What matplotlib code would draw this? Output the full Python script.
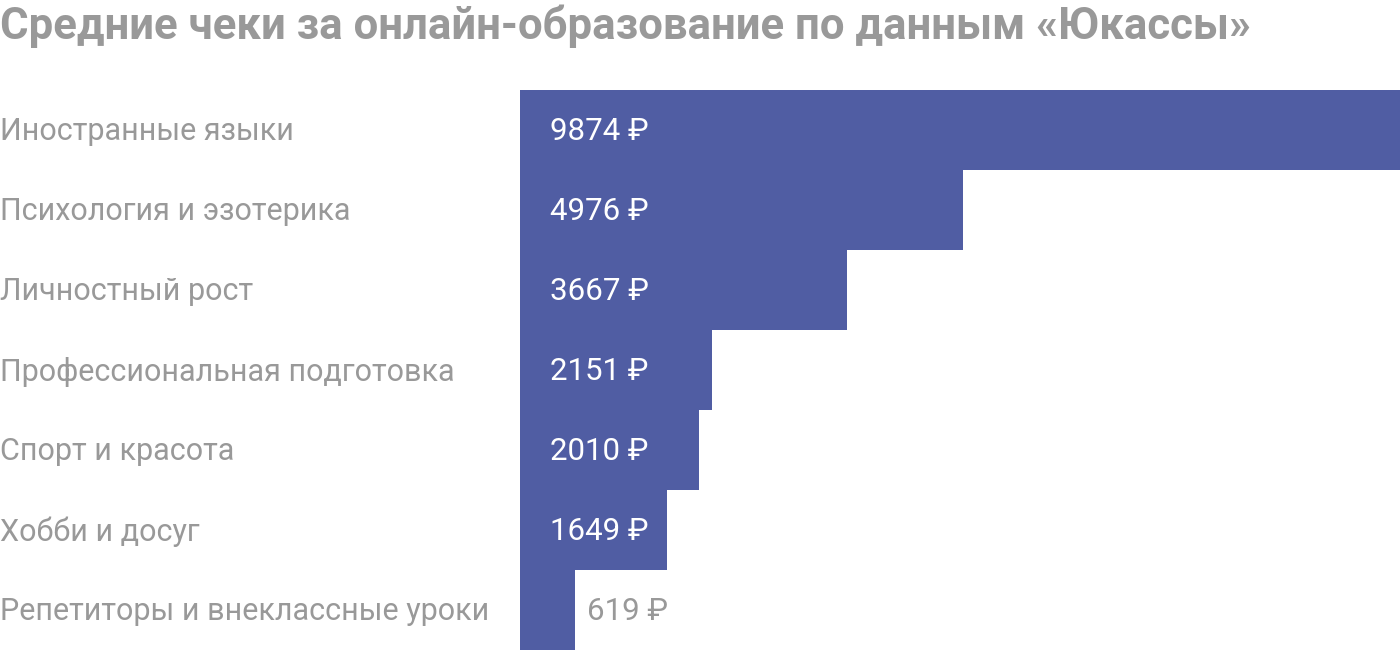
import matplotlib
matplotlib.use("Agg")
import matplotlib.pyplot as plt

plt.rcParams['font.family'] = ['Roboto', 'DejaVu Sans']

# data
categories = [
    "Иностранные языки",
    "Психология и эзотерика",
    "Личностный рост",
    "Профессиональная подготовка",
    "Спорт и красота",
    "Хобби и досуг",
    "Репетиторы и внеклассные уроки",
]
values = [9874, 4976, 3667, 2151, 2010, 1649, 619]

BAR_COLOR = "#505da3"
GRAY = "#999999"

W, H = 1400, 650
fig = plt.figure(figsize=(W / 100, H / 100), dpi=100)
ax = fig.add_axes([520 / W, 0, 880 / W, 560 / H])

ypos = list(range(len(values)))
ax.barh(ypos, values, height=1.0, color=BAR_COLOR, linewidth=0)
ax.set_xlim(0, max(values))
ax.set_ylim(len(values) - 0.5, -0.5)
ax.axis("off")

# value labels: inside the bar in white, outside in gray for short bars
for y, v in zip(ypos, values):
    txt = f"{v} ₽"
    if v > 1000:
        ax.annotate(txt, (0, y), xytext=(30, -2), textcoords="offset pixels",
                    ha="left", va="center", color="white", fontsize=22.5)
    else:
        ax.annotate(txt, (v, y), xytext=(12, -2), textcoords="offset pixels",
                    ha="left", va="center", color=GRAY, fontsize=22.5)

# category labels at the left edge of the figure
for y, cat in zip(ypos, categories):
    yy = ax.transData.transform((0, y))[1] - 2
    fig.text(0, yy / H, cat, ha="left", va="center", color=GRAY, fontsize=22)

fig.text(0, 1 - 26 / H, "Средние чеки за онлайн-образование по данным «Юкассы»",
         ha="left", va="center", color=GRAY, fontsize=31.5, fontweight="bold")

fig.savefig("out.png", dpi=100)
